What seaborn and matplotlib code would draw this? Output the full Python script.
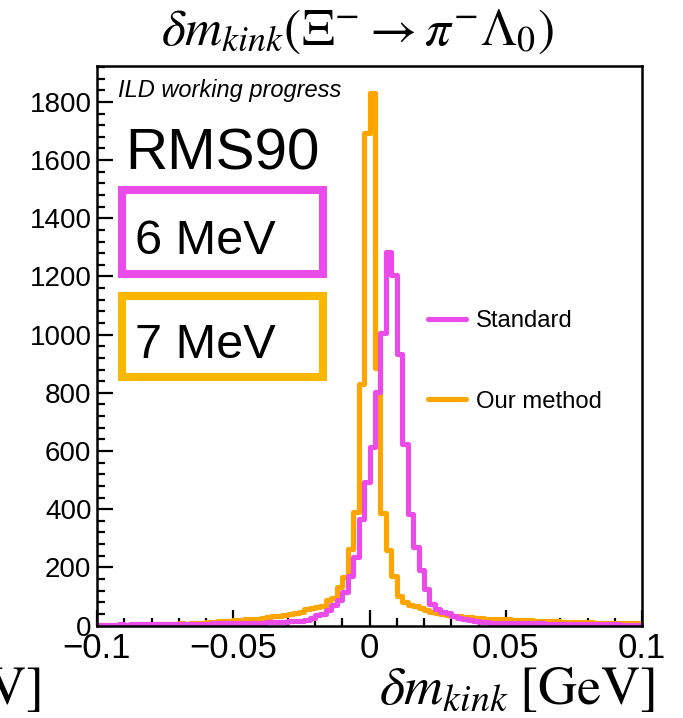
import numpy as np
import pandas as pd
import matplotlib
matplotlib.use("Agg")
import matplotlib.pyplot as plt
import seaborn as sns
from matplotlib.lines import Line2D
from matplotlib.patches import Rectangle
from matplotlib.ticker import MultipleLocator

# ---------------- data ----------------
x_min, x_max, n_bins = -0.1, 0.1, 100

standard_counts = [
    3, 3, 3, 3, 4, 3, 4, 4, 4, 4,
    4, 5, 5, 5, 5, 5, 6, 6, 6, 6,
    6, 7, 7, 7, 8, 8, 8, 9, 9, 10,
    10, 11, 11, 12, 13, 14, 15, 17, 20, 25,
    36, 40, 53, 70, 88, 115, 170, 235, 366, 492,
    614, 803, 1006, 1283, 1204, 933, 624, 385, 270, 191,
    125, 74, 57, 47, 42, 32, 27, 24, 18, 15,
    13, 11, 10, 10, 9, 9, 8, 8, 8, 7,
    7, 7, 6, 6, 6, 5, 5, 5, 5, 5,
    4, 4, 4, 4, 4, 4, 3, 3, 3, 3,
]

ourmethod_counts = [
    2, 3, 2, 3, 3, 2, 3, 4, 3, 4,
    4, 5, 4, 5, 6, 7, 6, 8, 9, 10,
    11, 12, 14, 15, 16, 18, 19, 21, 22, 24,
    27, 29, 31, 33, 36, 38, 42, 46, 56, 60,
    65, 68, 88, 96, 132, 167, 262, 389, 830, 1693,
    1832, 887, 388, 258, 170, 102, 82, 72, 66, 60,
    52, 47, 44, 40, 37, 34, 32, 30, 28, 26,
    25, 24, 23, 22, 21, 21, 20, 19, 19, 18,
    17, 16, 15, 15, 14, 13, 13, 12, 12, 11,
    11, 10, 10, 10, 9, 9, 9, 8, 8, 8,
]

series_labels = ["Standard", "Our method"]
x_ticks = [-0.1, -0.05, 0, 0.05, 0.1]
x_tick_labels = ["\u22120.1", "\u22120.05", "0", "0.05", "0.1"]
y_ticks = [0, 200, 400, 600, 800, 1000, 1200, 1400, 1600, 1800]
rms_labels = ["6 MeV", "7 MeV"]

# ---------------- style ----------------
MAG = "#eb4be9"
ORA = "#ffa500"
BOX_ORA = "#f9b700"

sns.set_theme(style="ticks")
plt.rcParams["font.family"] = ["Liberation Sans", "DejaVu Sans"]
plt.rcParams["mathtext.fontset"] = "stix"
plt.rcParams["text.color"] = "black"
plt.rcParams["axes.labelcolor"] = "black"
plt.rcParams["xtick.color"] = "black"
plt.rcParams["ytick.color"] = "black"
plt.rcParams["xtick.labelcolor"] = "black"
plt.rcParams["ytick.labelcolor"] = "black"

W, H = 683, 718
fig = plt.figure(figsize=(W / 100, H / 100), dpi=100)
fig.patch.set_facecolor("white")


def fx(x):
    return x / W


def fy(y):
    return 1 - y / H


ax = fig.add_axes([fx(97), fy(625.5), fx(642) - fx(97), fy(66) - fy(625.5)])

binw = (x_max - x_min) / n_bins
centers = x_min + binw * (np.arange(n_bins) + 0.5)
df_our = pd.DataFrame({"x": centers, "w": np.asarray(ourmethod_counts, float)})
df_std = pd.DataFrame({"x": centers, "w": np.asarray(standard_counts, float)})

sns.histplot(data=df_our, x="x", weights="w", binwidth=binw, binrange=(x_min, x_max),
             element="step", fill=False, color=ORA, linewidth=3.7, ax=ax)
sns.histplot(data=df_std, x="x", weights="w", binwidth=binw, binrange=(x_min, x_max),
             element="step", fill=False, color=MAG, linewidth=3.7, ax=ax)

ymax = 1.05 * max(max(standard_counts), max(ourmethod_counts))
ax.set_xlim(x_min, x_max)
ax.set_ylim(0, ymax)
ax.set_xlabel("")
ax.set_ylabel("")

ax.set_xticks(x_ticks)
ax.set_xticklabels(x_tick_labels, fontsize=25, color="black")
ax.set_yticks(y_ticks)
ax.set_yticklabels([str(v) for v in y_ticks], fontsize=20, color="black")
ax.xaxis.set_minor_locator(MultipleLocator(0.01))
ax.yaxis.set_minor_locator(MultipleLocator(40))
ax.tick_params(which="both", direction="in", width=1.6, color="black",
               top=False, right=False)
ax.tick_params(which="major", length=11.5)
ax.tick_params(which="minor", length=5.8)
ax.tick_params(axis="y", pad=4)
ax.tick_params(axis="x", pad=5)
for sp in ax.spines.values():
    sp.set_linewidth(1.8)
    sp.set_color("black")
    sp.set_visible(True)

# legend
handles = [Line2D([], [], color=MAG, lw=3.7), Line2D([], [], color=ORA, lw=3.7)]
leg = ax.legend(handles, series_labels, loc="upper left",
                bbox_to_anchor=(fx(428), fy(310)), bbox_transform=fig.transFigure,
                frameon=False, borderpad=0, borderaxespad=0, handlelength=1.6,
                handletextpad=0.4, labelspacing=2.45, fontsize=17.2)
for t in leg.get_texts():
    t.set_color("black")

# annotations
fig.text(fx(118), fy(97), "ILD working progress", fontsize=17, style="italic",
         ha="left", va="baseline", color="black")
fig.text(fx(125), fy(169), "RMS90", fontsize=42, ha="left", va="baseline", color="black")
fig.add_artist(Rectangle((fx(122), fy(274)), fx(323) - fx(122), fy(190) - fy(274),
                         transform=fig.transFigure, fill=False, edgecolor=MAG, lw=5.8))
fig.add_artist(Rectangle((fx(122), fy(377)), fx(323) - fx(122), fy(296) - fy(377),
                         transform=fig.transFigure, fill=False, edgecolor=BOX_ORA, lw=5.8))
fig.text(fx(135), fy(254), rms_labels[0], fontsize=35, ha="left", va="baseline", color="black")
fig.text(fx(135), fy(358), rms_labels[1], fontsize=35, ha="left", va="baseline", color="black")

# title and axis title
fig.text(fx(357), fy(45), r"$\delta m_{kink}(\Xi^{-} \rightarrow \pi^{-}\Lambda_{0})$",
         fontsize=37, ha="center", va="baseline", color="black")
fig.text(fx(655), fy(704), r"$\delta m_{kink}\;[\mathrm{GeV}]$",
         fontsize=39, ha="right", va="baseline", color="black")
fig.text(fx(40), fy(704), r"$\mathrm{V}]$", fontsize=39, ha="right", va="baseline",
         color="black")

fig.savefig("out.png", dpi=100)
